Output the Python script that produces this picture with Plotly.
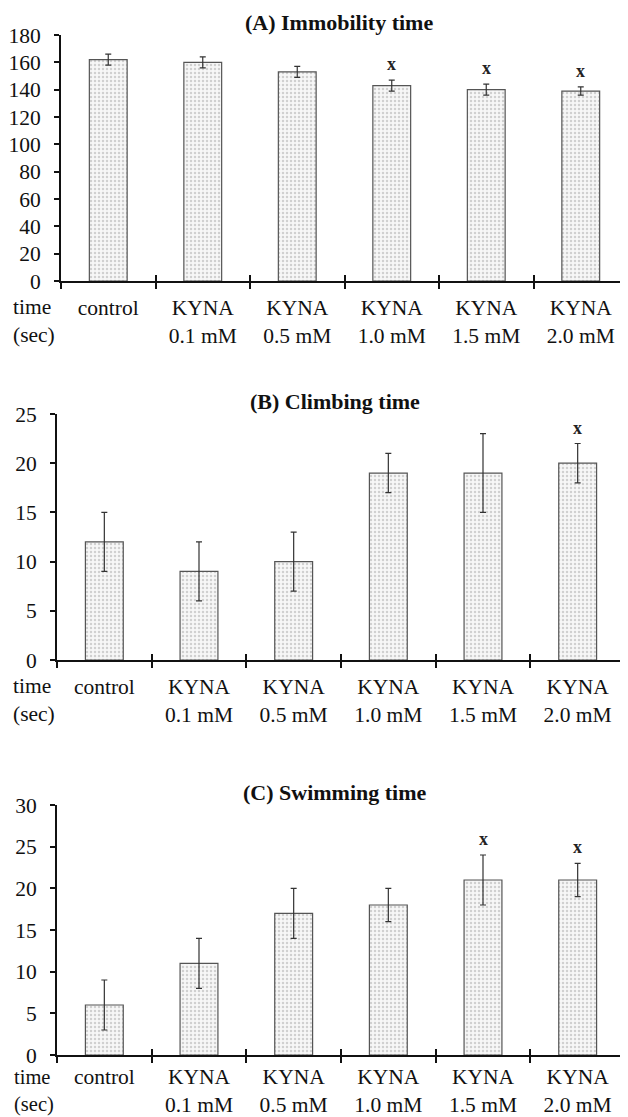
import plotly.graph_objects as go

categories = ["control", "KYNA<br>0.1 mM", "KYNA<br>0.5 mM", "KYNA<br>1.0 mM", "KYNA<br>1.5 mM", "KYNA<br>2.0 mM"]

immobility = [162, 160, 153, 143, 140, 139]
immobility_err = [4, 4, 4, 4, 4, 3]
immobility_sig = ["", "", "", "x", "x", "x"]

climbing = [12, 9, 10, 19, 19, 20]
climbing_err = [3, 3, 3, 2, 4, 2]
climbing_sig = ["", "", "", "", "", "x"]

swimming = [6, 11, 17, 18, 21, 21]
swimming_err = [3, 3, 3, 2, 3, 2]
swimming_sig = ["", "", "", "", "x", "x"]

titles = ["(A) Immobility time", "(B) Climbing time", "(C) Swimming time"]
y_ranges = [[0, 180], [0, 25], [0, 30]]
y_dticks = [20, 5, 5]

OFF = 8  # page body margin
W, H = 628 - OFF, 1117 - OFF
FONT = "Liberation Serif"

# pixel boxes (screen coords) for each panel: (left, right, top, bottom)
boxes = [(61, 628, 35, 281), (57, 625, 414, 660), (57, 625, 805, 1055)]
label_standoff = [6, 6, 1]
time_shift = [0, 0, 3]
time_size = [21.5, 21.5, 20.5]


def px(x):
    return (x - OFF) / W


def py(y):
    return 1 - (y - OFF) / H


fig = go.Figure()
panels = [(immobility, immobility_err, immobility_sig),
          (climbing, climbing_err, climbing_sig),
          (swimming, swimming_err, swimming_sig)]

for i, ((vals, errs, sig), (l, r, t, b)) in enumerate(zip(panels, boxes)):
    n = "" if i == 0 else str(i + 1)
    xa, ya = "x" + n, "y" + n
    ov = str(i + 4)
    fig.add_trace(go.Bar(
        x=categories, y=vals, xaxis=xa, yaxis=ya,
        marker=dict(color="white", line=dict(color="#555555", width=1.2),
                    pattern=dict(shape=".", fgcolor="#a8a8a8", bgcolor="#f7f7f7", size=4, solidity=0.3)),
        error_y=dict(type="data", array=errs, color="#333333", thickness=1.2, width=3),
        width=0.4, showlegend=False, hoverinfo="skip"))
    # invisible trace on an overlay axis that draws the inner half of the crossing ticks
    fig.add_trace(go.Scatter(x=categories, y=[0] * len(categories), xaxis="x" + ov, yaxis=ya,
                             mode="markers", marker=dict(size=1, opacity=0),
                             showlegend=False, hoverinfo="skip"))
    for c, v, e, s in zip(categories, vals, errs, sig):
        if s:
            fig.add_annotation(x=c, y=v + e, xref=xa, yref=ya, text="<b>" + s + "</b>",
                               showarrow=False, yshift=16, yanchor="middle",
                               font=dict(family=FONT, size=18, color="#222222"))
    fig.layout["xaxis" + n] = dict(
        domain=[px(l), min(px(r), 1.0)], anchor=ya, showgrid=False, showline=True,
        linecolor="#111111", linewidth=2, ticks="outside", tickson="boundaries",
        ticklen=6, tickwidth=2, tickcolor="#111111", automargin=False,
        ticklabelstandoff=label_standoff[i],
        tickfont=dict(family=FONT, size=21.5, color="#111111"), fixedrange=True)
    fig.layout["xaxis" + ov] = dict(
        domain=[px(l), min(px(r), 1.0)], anchor=ya, overlaying=xa, side="bottom",
        type="category", categoryorder="array", categoryarray=categories,
        range=[-0.5, len(categories) - 0.5],
        showgrid=False, showline=False, ticks="inside", tickson="boundaries",
        ticklen=6, tickwidth=2, tickcolor="#111111", showticklabels=False,
        automargin=False, fixedrange=True)
    fig.layout["yaxis" + n] = dict(
        domain=[py(b), py(t)], anchor=xa, range=y_ranges[i], dtick=y_dticks[i],
        showgrid=False, showline=True, linecolor="#111111", linewidth=2,
        ticks="outside", ticklen=5, tickwidth=2, tickcolor="#111111", zeroline=False,
        automargin=False, ticklabelstandoff=9,
        tickfont=dict(family=FONT, size=21.5, color="#111111"), fixedrange=True)
    fig.add_annotation(text="<b>" + titles[i] + "</b>", xref="paper", yref="paper",
                       x=px((l + r) / 2 - 6), y=py(t - 13), showarrow=False,
                       font=dict(family=FONT, size=22, color="#111111"),
                       xanchor="center", yanchor="middle")
    fig.add_annotation(text="time<br>(sec)", xref="paper", yref="paper",
                       x=px(34), y=py(b + 13 - time_shift[i]), showarrow=False,
                       align="left", borderpad=0,
                       font=dict(family=FONT, size=time_size[i], color="#111111"),
                       xanchor="center", yanchor="top")

fig.update_layout(width=W, height=H, margin=dict(l=0, r=0, t=0, b=0),
                  plot_bgcolor="white", paper_bgcolor="white", bargap=0.6)

fig.write_html("out.html")
